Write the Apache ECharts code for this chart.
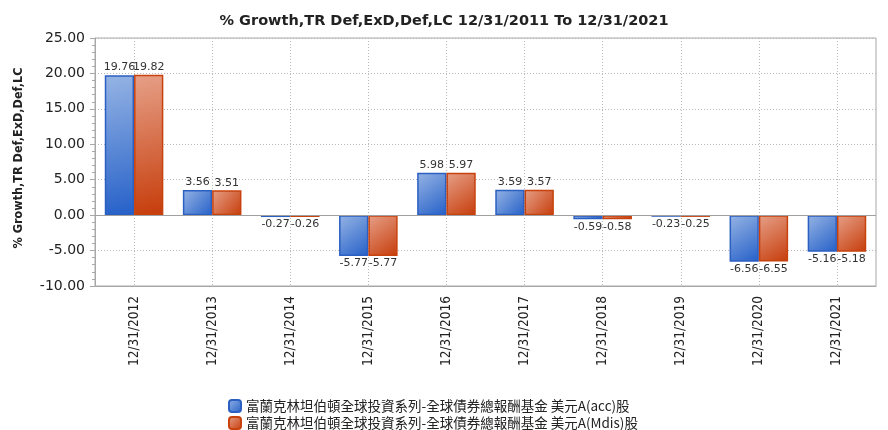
<!DOCTYPE html>
<html><head><meta charset="utf-8">
<script src="https://cdn.jsdelivr.net/npm/echarts@6/dist/echarts.min.js"></script>
<style>html,body{margin:0;padding:0;background:#fff}#c{width:888px;height:430px}</style>
</head><body><div id="c"></div>
<script>
const categories = ['12/31/2012','12/31/2013','12/31/2014','12/31/2015','12/31/2016','12/31/2017','12/31/2018','12/31/2019','12/31/2020','12/31/2021'];
const seriesAccName = '富蘭克林坦伯頓全球投資系列-全球債券總報酬基金 美元A(acc)股';
const seriesMdisName = '富蘭克林坦伯頓全球投資系列-全球債券總報酬基金 美元A(Mdis)股';
const seriesAcc = [19.76, 3.56, -0.27, -5.77, 5.98, 3.59, -0.59, -0.23, -6.56, -5.16];
const seriesMdis = [19.82, 3.51, -0.26, -5.77, 5.97, 3.57, -0.58, -0.25, -6.55, -5.18];
const yTicks = {min: -10, max: 25, interval: 5};

const chart = echarts.init(document.getElementById('c'));
function grad(c1, c2){
  return new echarts.graphic.LinearGradient(0,0,1,1,[{offset:0,color:c1},{offset:1,color:c2}]);
}
function items(arr){
  return arr.map(v => ({value: v, label: {position: v < 0 ? 'bottom' : 'top'}}));
}
const labelStyle = {show: true, fontFamily: 'DejaVu Sans', fontSize: 11, color: '#333', distance: 2,
  formatter: p => p.value.toFixed(2)};
const legendText = {fontFamily: 'Noto Sans CJK TC', fontSize: 13.5, lineHeight: 13, color: '#222'};
chart.setOption({
  animation: false,
  title: {text: '% Growth,TR Def,ExD,Def,LC 12/31/2011 To 12/31/2021', left: 'center', top: 9,
    textStyle: {fontFamily: 'DejaVu Sans', fontWeight: 'bold', fontSize: 14.5, color: '#222'}},
  grid: {left: 95, right: 12, top: 38, bottom: 144, show: true, borderColor: '#a8a8a8', borderWidth: 1},
  legend: [
    {left: 228, top: 399, padding: 0, itemWidth: 12, itemHeight: 12, itemGap: 6, textStyle: legendText, data: [seriesAccName]},
    {left: 228, top: 416, padding: 0, itemWidth: 12, itemHeight: 12, itemGap: 6, textStyle: legendText, data: [seriesMdisName]}
  ],
  xAxis: {type: 'category', data: categories,
    axisLine: {onZero: false, lineStyle: {color: '#a8a8a8'}},
    axisTick: {alignWithLabel: true, length: 6, lineStyle: {color: '#a8a8a8'}},
    splitLine: {show: true, alignWithLabel: true, lineStyle: {color: '#b8b8b8', type: [1,2]}},
    axisLabel: {rotate: 90, margin: 10, fontFamily: 'DejaVu Sans Condensed', fontSize: 13.5, color: '#222'}},
  yAxis: {type: 'value', min: yTicks.min, max: yTicks.max, interval: yTicks.interval,
    name: '% Growth,TR Def,ExD,Def,LC', nameLocation: 'middle', nameGap: 70, nameRotate: 90,
    nameTextStyle: {fontFamily: 'DejaVu Sans Condensed', fontWeight: 'bold', fontSize: 12.5, color: '#222', padding: [0, 0, 0, 8]},
    axisLine: {show: true, lineStyle: {color: '#a8a8a8'}},
    axisTick: {show: true, length: 5, lineStyle: {color: '#a8a8a8'}},
    minorTick: {show: true, splitNumber: 5, length: 3, lineStyle: {color: '#a8a8a8'}},
    splitLine: {show: true, lineStyle: {color: '#b8b8b8', type: [1,2]}},
    axisLabel: {fontFamily: 'DejaVu Sans', fontSize: 14, color: '#222', margin: 10,
      formatter: v => v.toFixed(2)}},
  series: [
    {name: seriesAccName, type: 'bar', data: items(seriesAcc), barGap: '0%', barCategoryGap: '25%',
      itemStyle: {color: grad('#96b4e4', '#2560c8'), borderColor: '#2c5fc2', borderWidth: 1.5},
      label: labelStyle,
      markLine: {silent: true, symbol: 'none', label: {show: false},
        lineStyle: {color: '#a0a0a0', type: 'solid', width: 1}, data: [{yAxis: 0}]}},
    {name: seriesMdisName, type: 'bar', data: items(seriesMdis),
      itemStyle: {color: grad('#e6a088', '#c63c0a'), borderColor: '#c8420e', borderWidth: 1.5},
      label: labelStyle}
  ]
});
</script></body></html>
